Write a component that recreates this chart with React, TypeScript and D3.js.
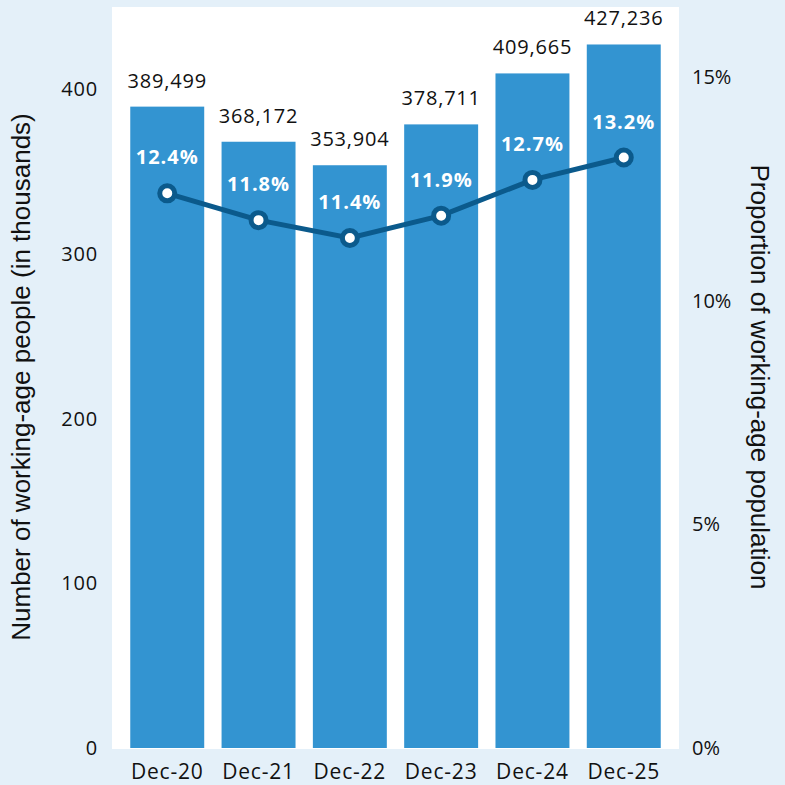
import { useEffect, useRef } from "react";
import * as d3 from "d3";

const categories = ["Dec-20", "Dec-21", "Dec-22", "Dec-23", "Dec-24", "Dec-25"];
const people = [389499, 368172, 353904, 378711, 409665, 427236];
const proportion = [12.4, 11.8, 11.4, 11.9, 12.7, 13.2];
const leftTicks = [0, 100, 200, 300, 400];
const rightTicks = [0, 5, 10, 15];

const W = 785,
  H = 785;
const plot = { left: 112, right: 679, top: 7, bottom: 748 };

function App() {
  const svgRef = useRef(null);

  const buildSVG = () => {
    const svg = d3.select(svgRef.current);
    svg.selectAll("*").remove();

    svg.append("rect").attr("width", W).attr("height", H).attr("fill", "#e4f0f9");
    svg
      .append("rect")
      .attr("x", plot.left)
      .attr("y", plot.top)
      .attr("width", plot.right - plot.left)
      .attr("height", plot.bottom + 1 - plot.top)
      .attr("fill", "#ffffff");

    const x = d3
      .scaleBand()
      .domain(categories)
      .range([plot.left, plot.right])
      .paddingInner(0.19)
      .paddingOuter(0.2);
    const y = d3.scaleLinear().domain([0, 450]).range([plot.bottom, plot.top]);
    const y2 = d3.scaleLinear().domain([0, 15]).range([plot.bottom, 77]);

    const font = "'Open Sans', Lato, sans-serif";
    const titleFont = "'Liberation Sans', Arial, sans-serif";

    // bars
    svg
      .selectAll("rect.bar")
      .data(people)
      .enter()
      .append("rect")
      .attr("class", "bar")
      .attr("x", (d, i) => x(categories[i]) as number)
      .attr("y", (d) => y(d / 1000))
      .attr("width", x.bandwidth())
      .attr("height", (d) => plot.bottom - y(d / 1000))
      .attr("fill", "#3394d1");

    // bar value labels
    svg
      .selectAll("text.val")
      .data(people)
      .enter()
      .append("text")
      .attr("class", "val")
      .attr("x", (d, i) => (x(categories[i]) as number) + x.bandwidth() / 2)
      .attr("y", (d) => y(d / 1000) - 19)
      .attr("text-anchor", "middle")
      .attr("font-family", font)
      .attr("font-size", 20)
      .attr("letter-spacing", 0.8)
      .attr("fill", "#111")
      .text((d) => d3.format(",")(d));

    // line
    const cx = (i: number) => (x(categories[i]) as number) + x.bandwidth() / 2;
    const line = d3
      .line<number>()
      .x((d, i) => cx(i))
      .y((d) => y2(d));
    svg
      .append("path")
      .datum(proportion)
      .attr("d", line)
      .attr("fill", "none")
      .attr("stroke", "#0b5a8c")
      .attr("stroke-width", 5);

    svg
      .selectAll("circle.pt")
      .data(proportion)
      .enter()
      .append("circle")
      .attr("class", "pt")
      .attr("cx", (d, i) => cx(i))
      .attr("cy", (d) => y2(d))
      .attr("r", 7.5)
      .attr("fill", "#ffffff")
      .attr("stroke", "#0b5a8c")
      .attr("stroke-width", 5);

    svg
      .selectAll("text.pct")
      .data(proportion)
      .enter()
      .append("text")
      .attr("class", "pct")
      .attr("x", (d, i) => cx(i))
      .attr("y", (d) => y2(d) - 29)
      .attr("text-anchor", "middle")
      .attr("font-family", font)
      .attr("font-weight", "bold")
      .attr("font-size", 20)
      .attr("letter-spacing", 1)
      .attr("fill", "#ffffff")
      .text((d) => d.toFixed(1) + "%");

    // left axis labels
    svg
      .selectAll("text.lt")
      .data(leftTicks)
      .enter()
      .append("text")
      .attr("class", "lt")
      .attr("x", 98)
      .attr("y", (d) => y(d) + 7)
      .attr("text-anchor", "end")
      .attr("font-family", font)
      .attr("font-size", 20)
      .attr("letter-spacing", 0.8)
      .attr("fill", "#111")
      .text((d) => d);

    // right axis labels
    svg
      .selectAll("text.rt")
      .data(rightTicks)
      .enter()
      .append("text")
      .attr("class", "rt")
      .attr("x", 692)
      .attr("y", (d) => y2(d) + 7)
      .attr("text-anchor", "start")
      .attr("font-family", font)
      .attr("font-size", 20)
      .attr("fill", "#111")
      .text((d) => d + "%");

    // x labels
    svg
      .selectAll("text.xl")
      .data(categories)
      .enter()
      .append("text")
      .attr("class", "xl")
      .attr("x", (d) => (x(d) as number) + x.bandwidth() / 2)
      .attr("y", 779)
      .attr("text-anchor", "middle")
      .attr("font-family", font)
      .attr("font-size", 21)
      .attr("letter-spacing", 0.8)
      .attr("fill", "#111")
      .text((d) => d);

    // axis titles
    svg
      .append("text")
      .attr("transform", "translate(30,377) rotate(-90)")
      .attr("text-anchor", "middle")
      .attr("font-family", titleFont)
      .attr("font-size", 26)
      .attr("fill", "#111")
      .text("Number of working-age people (in thousands)");

    svg
      .append("text")
      .attr("transform", "translate(751,377) rotate(90)")
      .attr("text-anchor", "middle")
      .attr("font-family", titleFont)
      .attr("font-size", 26)
      .attr("fill", "#111")
      .text("Proportion of working-age population");
  };

  useEffect(buildSVG, []);

  return (
    <svg
      ref={svgRef}
      width={W}
      height={H}
      style={{ position: "fixed", left: 0, top: 0 }}
    ></svg>
  );
}

export default App;
